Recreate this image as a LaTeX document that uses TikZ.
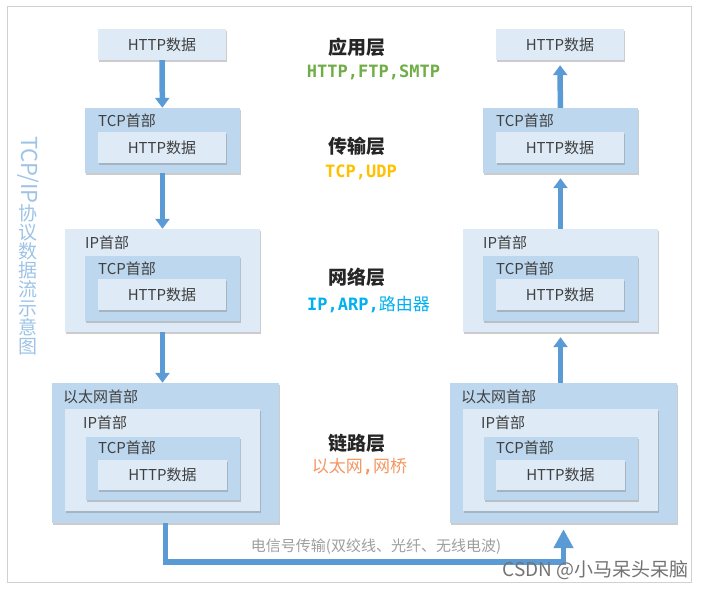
\documentclass[tikz,border=0pt]{standalone}
\usepackage{fontspec}
\setmainfont{Noto Sans CJK SC}
\newfontfamily\codefont{DejaVu Sans Mono}
\usetikzlibrary{arrows.meta,shadows}
\definecolor{boxpale}{RGB}{222,235,247}
\definecolor{boxdeep}{RGB}{189,215,238}
\definecolor{flowblue}{RGB}{91,155,213}
\definecolor{titleblue}{RGB}{157,195,230}
\definecolor{txt}{RGB}{64,64,64}
\definecolor{protogreen}{RGB}{112,173,71}
\definecolor{protoyellow}{RGB}{255,192,0}
\definecolor{protocyan}{RGB}{0,176,240}
\definecolor{protoorange}{RGB}{244,150,95}
\tikzset {
  >=Triangle,
  every node/.style={font=\fontsize{15}{17}\selectfont, text=txt},
  pale/.style={fill=boxpale, inner sep=0pt,
    drop shadow={shadow xshift=1pt, shadow yshift=-1.5pt, opacity=.4}},
  deep/.style={fill=boxdeep, inner sep=0pt,
    drop shadow={shadow xshift=1pt, shadow yshift=-1.5pt, opacity=.4}},
  hdr/.style={anchor=west, inner sep=0pt},
  layer/.style={font=\fontsize{19}{21}\selectfont\bfseries, text=black!85},
  proto/.style={font=\codefont\bfseries\fontsize{17}{19}\selectfont},
  vtitle/.style={font=\fontsize{19}{19}\selectfont, text=titleblue, inner sep=0pt},
  flow/.style={draw=flowblue, line width=5.5pt, -{Triangle[length=10pt,width=14pt]}},
}

\begin{document}
\begin{tikzpicture}[x=1pt,y=-1pt]
          \useasboundingbox (0,0) rectangle (706,589);
          \draw[black!18, line width=1pt] (7,6) rectangle (691,582);

          \node[vtitle, font=\fontsize{22}{22}\selectfont, rotate=-90, anchor=west] (titleA) at (28,136) {TCP/IP};
          \node[vtitle, anchor=north, align=center] (titleB) at (titleA.east) {协\\议\\数\\据\\流\\示\\意\\图};

          \node[pale, minimum width=128pt, minimum height=31pt] (l1) at (162,44.5) {HTTP数据};

          \node[deep, minimum width=155pt, minimum height=65pt] (l2) at (162.5,140.5) {};
          \node[hdr] (l2h) at (98,121) {TCP首部};
          \node[pale, minimum width=128pt, minimum height=31pt] (l2d) at (162,147.5) {HTTP数据};

          \node[pale, minimum width=195pt, minimum height=103pt] (l3) at (162.5,280.5) {};
          \node[hdr] (l3h) at (85,243) {IP首部};
          \node[deep, minimum width=155pt, minimum height=65pt] (l3t) at (162.5,288.5) {};
          \node[hdr] (l3th) at (98,269) {TCP首部};
          \node[pale, minimum width=128pt, minimum height=31pt] (l3d) at (162,294.5) {HTTP数据};

          \node[deep, minimum width=227pt, minimum height=140pt] (l4) at (165.5,453) {};
          \node[hdr] (l4h) at (63,397) {以太网首部};
          \node[pale, minimum width=195pt, minimum height=102pt] (l4i) at (162.5,460) {};
          \node[hdr] (l4ih) at (83,423) {IP首部};
          \node[deep, minimum width=154pt, minimum height=63pt] (l4t) at (163,468.5) {};
          \node[hdr] (l4th) at (98,448) {TCP首部};
          \node[pale, minimum width=129pt, minimum height=30pt] (l4d) at (162.5,475) {HTTP数据};

          \node[pale, minimum width=128pt, minimum height=31pt] (r1) at (560,44.5) {HTTP数据};

          \node[deep, minimum width=155pt, minimum height=65pt] (r2) at (560.5,140.5) {};
          \node[hdr] (r2h) at (496,121) {TCP首部};
          \node[pale, minimum width=128pt, minimum height=31pt] (r2d) at (560,147.5) {HTTP数据};

          \node[pale, minimum width=195pt, minimum height=103pt] (r3) at (560.5,280.5) {};
          \node[hdr] (r3h) at (483,243) {IP首部};
          \node[deep, minimum width=155pt, minimum height=65pt] (r3t) at (560.5,288.5) {};
          \node[hdr] (r3th) at (496,269) {TCP首部};
          \node[pale, minimum width=128pt, minimum height=31pt] (r3d) at (560,294.5) {HTTP数据};

          \node[deep, minimum width=227pt, minimum height=140pt] (r4) at (563.5,453) {};
          \node[hdr] (r4h) at (461,397) {以太网首部};
          \node[pale, minimum width=195pt, minimum height=102pt] (r4i) at (560.5,460) {};
          \node[hdr] (r4ih) at (481,423) {IP首部};
          \node[deep, minimum width=154pt, minimum height=63pt] (r4t) at (561,468.5) {};
          \node[hdr] (r4th) at (496,448) {TCP首部};
          \node[pale, minimum width=129pt, minimum height=30pt] (r4d) at (560.5,475) {HTTP数据};

          \draw[flow] (l1) -- (l2);
          \draw[flow] (l2) -- (l3);
          \draw[flow] (l3.south) -- (l3.south |- l4.north);
          \draw[flow, shorten >=5pt] (r2) -- (r1);
          \draw[flow, shorten >=5pt] (r3) -- (r2);
          \draw[flow, shorten >=5pt] (r3.south |- r4.north) -- (r3.south);
          \draw[flow, -{Triangle[length=19pt,width=19pt]}, shorten >=6pt]
            (l4.south) -- ++(0,39) -| (r4.south);

          \node[layer] (app) at (357,47) {应用层};
          \node[proto, text=protogreen] (appP) at (373.5,72) {HTTP,FTP,SMTP};
          \node[layer] (trans) at (357,146) {传输层};
          \node[proto, text=protoyellow] (transP) at (361,172) {TCP,UDP};
          \node[layer] (net) at (357,277) {网络层};
          \node[proto, text=protocyan] (netP) at (368.5,305) {IP,ARP,{\normalfont 路由器}};
          \node[layer] (link) at (357,443) {链路层};
          \node[proto, text=protoorange] (linkP) at (359.5,467) {{\normalfont 以太网},{\normalfont 网桥}};

          \node[text=black!38, font=\fontsize{15}{17}\selectfont] (wire) at (376,547) {电信号传输(双绞线、光纤、无线电波)};
          \node[text=black!55, font=\fontsize{19}{21}\selectfont, anchor=east] (mark) at (692,570) {CSDN @小马呆头呆脑};
        \end{tikzpicture}
\end{document}
